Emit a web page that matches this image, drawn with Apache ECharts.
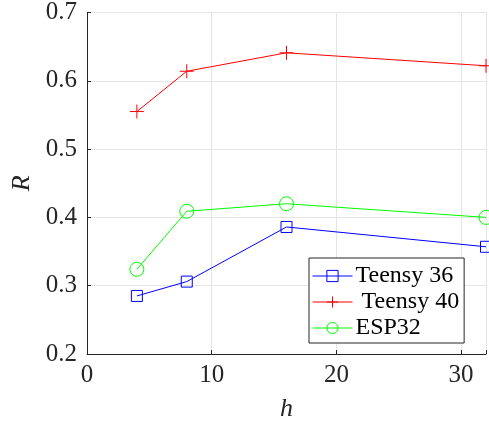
<!DOCTYPE html>
<html><head><meta charset="utf-8">
<script src="https://cdn.jsdelivr.net/npm/echarts@6/dist/echarts.min.js"></script>
<style>html,body{margin:0;padding:0;background:#fff}#c{width:489px;height:427px}</style>
</head><body><div id="c"></div>
<script>
const hValues = [4, 8, 16, 32];
const teensy36 = [0.285, 0.306, 0.386, 0.357];
const teensy40 = [0.555, 0.614, 0.641, 0.622];
const esp32 = [0.324, 0.409, 0.420, 0.400];
const seriesNames = ['Teensy 36', 'Teensy 40', 'ESP32'];
const xTicks = [0, 10, 20, 30];
const yTicks = [0.2, 0.3, 0.4, 0.5, 0.6, 0.7];

const font = 'Liberation Serif';
const axisColor = '#262626';
const plus = 'path://M7,0 L7,14 M0,7 L14,7';

function mk(name, vals, color, symbol, size) {
  return {
    name: name, type: 'line', data: hValues.map((h, i) => [h, vals[i]]),
    symbol: symbol, symbolSize: size, showAllSymbol: true,
    lineStyle: {color: color, width: 1},
    itemStyle: symbol === plus
      ? {color: 'rgba(0,0,0,0)', borderColor: color, borderWidth: 1}
      : {color: 'rgba(255,255,255,0)', borderColor: color, borderWidth: 1},
    clip: false, animation: false
  };
}

const chart = echarts.init(document.getElementById('c'), null, {renderer: 'canvas'});
chart.setOption({
  animation: false,
  backgroundColor: '#fff',
  grid: {left: 87, right: 1, top: 10, bottom: 69},
  xAxis: {
    type: 'value', min: 0, max: 32, interval: 10,
    name: 'h', nameLocation: 'middle', nameGap: 42,
    nameTextStyle: {fontFamily: font, fontStyle: 'italic', fontSize: 26, color: '#262626'},
    axisLine: {show: true, lineStyle: {color: axisColor, width: 1}},
    axisTick: {show: true, inside: true, length: 4, lineStyle: {color: axisColor}},
    axisLabel: {fontFamily: font, fontSize: 25, color: '#262626', margin: 9,
      formatter: v => xTicks.includes(v) ? String(v) : ''},
    splitLine: {show: true, lineStyle: {color: '#e5e5e5', width: 1}}
  },
  yAxis: {
    type: 'value', min: 0.2, max: 0.7, interval: 0.1,
    name: 'R', nameLocation: 'middle', nameGap: 51, nameRotate: 90,
    nameTextStyle: {fontFamily: font, fontStyle: 'italic', fontSize: 26, color: '#262626'},
    axisLine: {show: true, lineStyle: {color: axisColor, width: 1}},
    axisTick: {show: true, inside: true, length: 4, lineStyle: {color: axisColor}},
    axisLabel: {fontFamily: font, fontSize: 25, color: '#262626', margin: 10,
      formatter: v => { const t = yTicks.find(y => Math.abs(y - v) < 1e-6); return t === undefined ? '' : t.toFixed(1); }},
    splitLine: {show: true, lineStyle: {color: '#e5e5e5', width: 1}}
  },
  legend: {
    data: seriesNames, orient: 'vertical', left: 309, top: 258,
    backgroundColor: '#fff', borderColor: axisColor, borderWidth: 1,
    padding: [6, 5, 3, 3], itemGap: 2, itemWidth: 40, itemHeight: 14,
    itemStyle: {borderWidth: 1},
    lineStyle: {width: 1},
    textStyle: {fontFamily: font, fontSize: 24, color: '#000', padding: [0, 0, 0, -2]},
    formatter: n => n === 'Teensy 40' ? ' ' + n : n
  },
  series: [
    mk(seriesNames[0], teensy36, '#0000ff', 'rect', 11),
    mk(seriesNames[1], teensy40, '#ff0000', plus, 14),
    mk(seriesNames[2], esp32, '#00ff00', 'circle', 14)
  ]
});
</script></body></html>
